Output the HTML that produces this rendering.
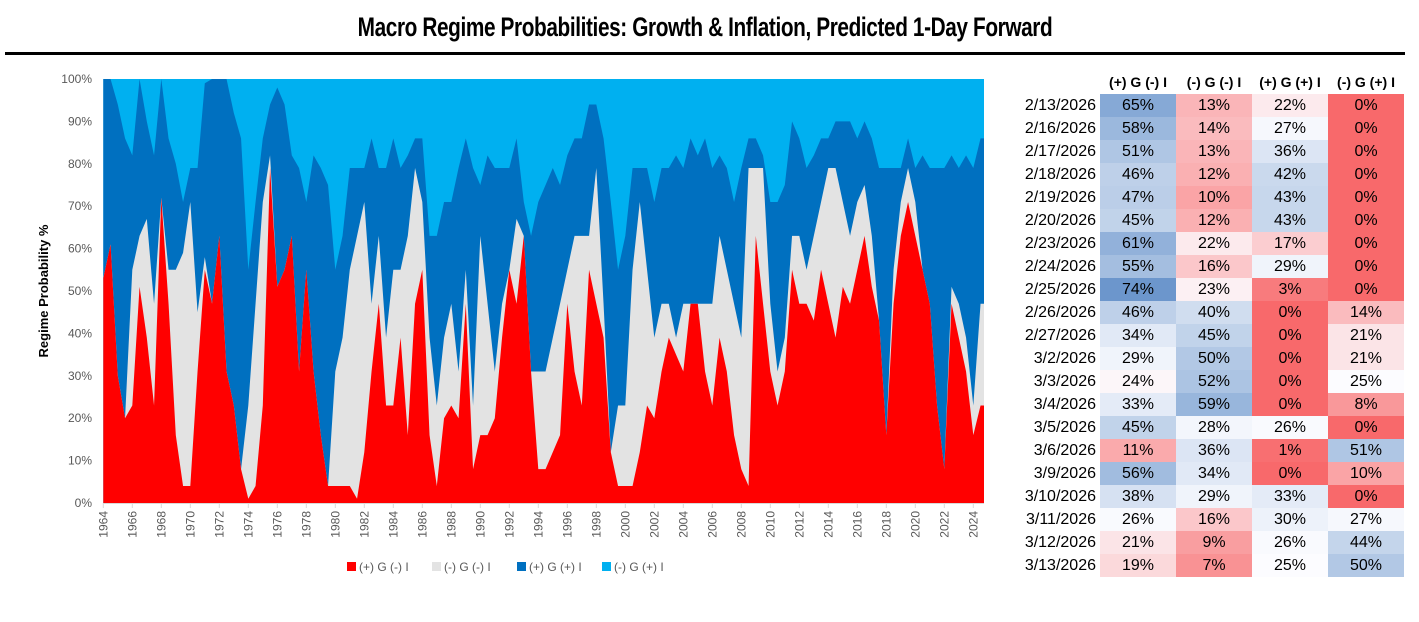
<!DOCTYPE html>
<html><head><meta charset="utf-8">
<style>
body{margin:0;background:#fff;width:1419px;height:622px;overflow:hidden;position:relative;font-family:"Liberation Sans",sans-serif;}
#title{position:absolute;left:0;width:1410px;top:12px;text-align:center;font-family:"Liberation Sans Narrow","Liberation Sans",sans-serif;font-weight:bold;font-size:27px;letter-spacing:-0.5px;transform:scaleX(0.77);color:#000}
#rule{position:absolute;left:5px;top:52px;width:1400px;height:3px;background:#000}
table{position:absolute;left:996px;top:71px;border-collapse:collapse;font-family:"Liberation Sans",sans-serif;font-size:16px;table-layout:fixed}
td,th{height:23px;padding:0;line-height:23px}
th{font-weight:bold;font-size:14px;width:76px;text-align:center}
td.d{width:100px;text-align:right;padding-right:4px}
td.v{width:76px;text-align:center}
</style></head><body>
<div id="title">Macro Regime Probabilities: Growth &amp; Inflation, Predicted 1-Day Forward</div>
<div id="rule"></div>
<svg id="chart" width="1000" height="622" style="position:absolute;left:0;top:0" xmlns="http://www.w3.org/2000/svg"></svg>
<table id="tbl"></table>
<script>
// Half-year samples 1964.0 .. 2024.5 ; cumulative tops (%)
const years = [];
for (let y = 1964; y <= 2024.5; y += 0.5) years.push(y);
const redTop = [53,61,30,20,23,51,39,23,72,47,16,4,4,31,55,47,63,31,23,8,1,4,23,79,51,55,63,31,55,31,16,4,4,4,4,1,12,31,47,23,23,39,16,47,55,16,4,20,23,20,47,8,16,16,20,39,55,47,63,31,8,
 8,12,16,47,31,23,55,47,39,12,4,4,4,12,23,20,31,39,35,31,47,47,31,23,39,31,16,8,4,63,47,31,23,31,55,47,47,43,55,47,39,51,47,55,63,51,43,16,47,63,71,63,55,47,23,8,47,39,31,16,23];
const grayTop = [53,61,30,20,55,63,67,47,72,55,55,59,71,45,58,47,63,31,23,8,23,47,71,82,51,55,63,31,55,31,16,4,31,39,55,63,71,47,63,39,55,55,63,79,71,39,23,39,47,31,55,23,63,47,31,47,55,67,63,31,31,
 31,39,47,55,63,63,63,79,47,12,23,23,55,71,55,39,47,47,39,47,47,47,47,47,63,55,47,39,79,79,79,47,31,39,63,63,55,63,71,79,79,71,63,71,75,63,43,16,55,71,79,71,55,47,23,8,51,47,39,23,47];
const dblueTop = [100,100,94,86,82,100,90,82,100,86,80,71,79,79,99,100,100,100,92,86,55,71,86,94,98,94,82,79,71,82,79,75,55,63,79,79,79,86,79,79,86,79,82,86,86,63,63,71,71,79,86,79,75,82,79,79,79,86,71,63,71,
 75,79,75,82,86,86,94,94,86,71,55,63,79,79,79,71,79,79,82,79,86,82,86,79,82,79,71,79,86,86,82,71,71,75,90,86,79,82,86,86,90,90,90,86,90,86,79,79,79,79,86,79,82,79,79,79,82,79,82,79,86];
const yTicks = [0,10,20,30,40,50,60,70,80,90,100];
const xTickYears = [];
for (let y = 1964; y <= 2024; y += 2) xTickYears.push(y);

const svg = document.getElementById('chart');
const NS = 'http://www.w3.org/2000/svg';
const X0 = 103.3, PX = 14.5, Y0 = 503, YH = 424, XEND = 984;
const xs = y => Math.min(XEND, X0 + (y - 1964) * PX);
const ys = p => Y0 - p / 100 * YH;
function mk(t, a) { const e = document.createElementNS(NS, t); for (const k in a) e.setAttribute(k, a[k]); svg.appendChild(e); return e; }

function band(top, color, name) {
  let pts = [];
  for (let i = 0; i < years.length; i++) pts.push(xs(years[i]) + ',' + ys(top[i]));
  pts.push(XEND + ',' + ys(top[top.length - 1]));
  pts.push(XEND + ',' + ys(0));
  pts.push(X0 + ',' + ys(0));
  const p = mk('polygon', { points: pts.join(' '), fill: color });
  
  
}
const lb = mk('rect', { x: X0, y: ys(100), width: XEND - X0, height: YH, fill: '#00B0F0' });


band(dblueTop, '#0070C0', 'series-pos-g-pos-i');
band(grayTop, '#E3E3E3', 'series-neg-g-neg-i');
band(redTop, '#FF0000', 'series-pos-g-neg-i');

const ax = mk('line', { x1: X0, x2: XEND, y1: Y0 + 0.5, y2: Y0 + 0.5, stroke: '#D9D9D9', 'stroke-width': 1 });


for (const t of yTicks) {
  const tx = mk('text', { x: 92, y: ys(t) + 4, 'text-anchor': 'end', 'font-size': 12, fill: '#595959', 'font-family': 'Liberation Sans, sans-serif' });
  tx.textContent = t + '%';
  
  
}
for (const yr of xTickYears) {
  const x = xs(yr);
  const tk = mk('line', { x1: x, x2: x, y1: Y0, y2: Y0 + 5, stroke: '#D9D9D9' });
  
  
  const tx = mk('text', { x: 0, y: 0, 'text-anchor': 'end', 'font-size': 12, fill: '#595959', 'font-family': 'Liberation Sans, sans-serif', transform: 'translate(' + (x + 4) + ',' + 511 + ') rotate(-90)' });
  tx.textContent = yr;
  
  
}
const yt = mk('text', { x: 0, y: 0, 'text-anchor': 'middle', 'font-size': 13, 'font-weight': 'bold', fill: '#000', 'font-family': 'Liberation Sans, sans-serif', transform: 'translate(48,291) rotate(-90)' });
yt.textContent = 'Regime Probability %';



const legNames = ['(+) G (-) I', '(-) G (-) I', '(+) G (+) I', '(-) G (+) I'];
const legColors = ['#FF0000', '#E3E3E3', '#0070C0', '#00B0F0'];
const legX = [347, 432, 517, 602];
legNames.forEach((n, i) => {
  const g = mk('g', {});
  
  
  const r = document.createElementNS(NS, 'rect');
  r.setAttribute('x', legX[i]); r.setAttribute('y', 562); r.setAttribute('width', 9); r.setAttribute('height', 9); r.setAttribute('fill', legColors[i]);
  g.appendChild(r);
  const t = document.createElementNS(NS, 'text');
  t.setAttribute('x', legX[i] + 12); t.setAttribute('y', 571); t.setAttribute('font-size', 12); t.setAttribute('fill', '#595959'); t.setAttribute('font-family', 'Liberation Sans, sans-serif');
  t.textContent = n;
  g.appendChild(t);
});

// table
const dates = ['2/13/2026','2/16/2026','2/17/2026','2/18/2026','2/19/2026','2/20/2026','2/23/2026','2/24/2026','2/25/2026','2/26/2026','2/27/2026','3/2/2026','3/3/2026','3/4/2026','3/5/2026','3/6/2026','3/9/2026','3/10/2026','3/11/2026','3/12/2026','3/13/2026'];
const colA = [65,58,51,46,47,45,61,55,74,46,34,29,24,33,45,11,56,38,26,21,19];
const colB = [13,14,13,12,10,12,22,16,23,40,45,50,52,59,28,36,34,29,16,9,7];
const colC = [22,27,36,42,43,43,17,29,3,0,0,0,0,0,26,1,0,33,30,26,25];
const colD = [0,0,0,0,0,0,0,0,0,14,21,21,25,8,0,51,10,0,27,44,50];
function mixc(a, b, t) { t = Math.max(0, Math.min(1, t)); return 'rgb(' + a.map((v, i) => Math.round(v + (b[i] - v) * t)).join(',') + ')'; }
const R = [248,105,107], W = [252,252,255], B = [90,138,198];
const MID = 25, MAX = 80;
function scale(v) {
  if (v <= MID) return mixc(R, W, v / MID);
  return mixc(W, B, (v - MID) / (MAX - MID));
}
const tbl = document.getElementById('tbl');
let h = '<tr><td class="d"></td><th>(+) G (-) I</th><th>(-) G (-) I</th><th>(+) G (+) I</th><th>(-) G (+) I</th></tr>';
const cols = [colA, colB, colC, colD];
dates.forEach((d, i) => {
  h += '<tr><td class="d">' + d + '</td>';
  cols.forEach((c) => { h += '<td class="v" style="background:' + scale(c[i]) + '">' + c[i] + '%</td>'; });
  h += '</tr>';
});
tbl.innerHTML = h;
</script>
</body></html>
